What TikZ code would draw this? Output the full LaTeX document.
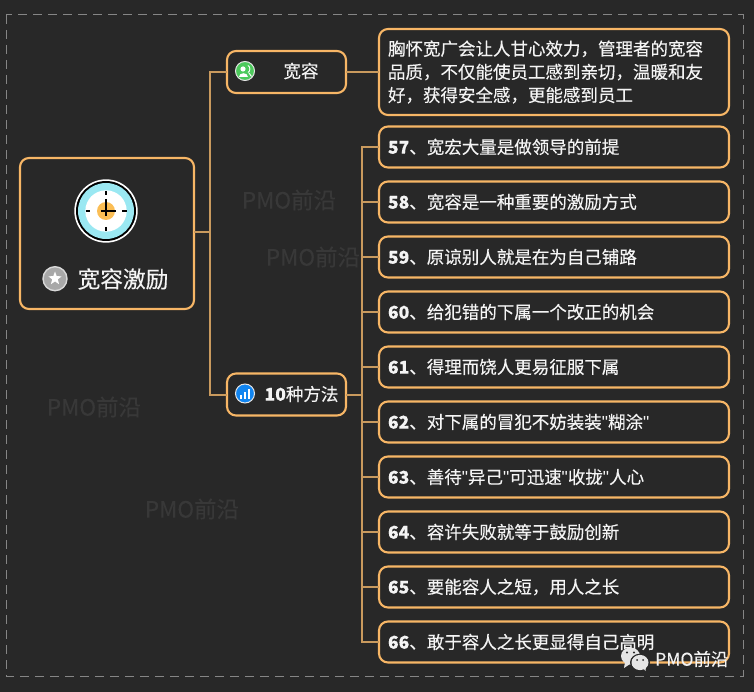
\documentclass[tikz,border=0pt]{standalone}
\usepackage{fontspec}
\setmainfont{Noto Sans CJK SC}[FakeBold=0.25]
\newfontfamily\qf{Liberation Sans}
\newcommand\qt{{\qf"}}
\usetikzlibrary{shapes.geometric,calc}
\definecolor{bgc}{HTML}{282828}
\definecolor{boxc}{HTML}{F7B666}
\definecolor{linkc}{HTML}{C99A5E}
\definecolor{txtc}{HTML}{F4F4F4}
\definecolor{wmc}{HTML}{383838}
\definecolor{cyanc}{HTML}{9AE8F2}
\definecolor{orangec}{HTML}{FBBE55}
\definecolor{greyc}{HTML}{A8A8A8}
\definecolor{greenc}{HTML}{4CC95C}
\definecolor{bluec}{HTML}{1185F0}
\definecolor{dashc}{HTML}{868686}
\tikzset{
  x=1pt,y=-1pt,
  nodebox/.style={draw=boxc,line width=2.1pt,rounded corners=9pt,fill=bgc,inner sep=0pt,outer sep=0pt},
  item/.style={nodebox,minimum width=350pt,minimum height=41pt,anchor=west,text=txtc,align=left,font=\fontsize{17.5}{17.5}\selectfont,text width=332pt},
  sub/.style={nodebox,minimum width=119pt,minimum height=42pt,text=txtc},
  link/.style={draw=linkc,line width=2pt},
  wm/.style={text=wmc,font=\fontsize{22.5}{22.5}\selectfont,inner sep=0pt},
  label/.style={text=txtc,inner sep=0pt,font=\fontsize{17.5}{17.5}\selectfont},
  tick/.style={draw=black,line width=1.3pt},
}
\begin{document}
\begin{tikzpicture}
\useasboundingbox (0,0) rectangle (754,692);
\fill[bgc] (0,0) rectangle (754,692);
\draw[draw=dashc,line width=1pt,dash pattern=on 9pt off 6pt] (6,15) rectangle (743,676);
\node[wm] (w1) at (289,200) {PMO前沿};
\node[wm] (w2) at (313,257) {PMO前沿};
\node[wm] (w3) at (94,407) {PMO前沿};
\node[wm] (w4) at (192,509) {PMO前沿};

\node[nodebox,minimum width=174pt,minimum height=151pt] (root) at (107,233.5) {};
\node[sub] (kr) at (286.5,72) {};
\node[sub] (fa) at (286.5,394.5) {};
\node[item,minimum height=86pt,font=\fontsize{17.5}{23.2}\selectfont] (desc) at (379,72) {胸怀宽广会让人甘心效力，管理者的宽容\\品质，不仅能使员工感到亲切，温暖和友\\好，获得安全感，更能感到员工};
\node[item] (i57) at (379,147) {\textbf{57}、宽宏大量是做领导的前提};
\node[item] (i58) at (379,202) {\textbf{58}、宽容是一种重要的激励方式};
\node[item] (i59) at (379,257) {\textbf{59}、原谅别人就是在为自己铺路};
\node[item] (i60) at (379,312) {\textbf{60}、给犯错的下属一个改正的机会};
\node[item] (i61) at (379,367) {\textbf{61}、得理而饶人更易征服下属};
\node[item] (i62) at (379,422) {\textbf{62}、对下属的冒犯不妨装装\qt 糊涂\qt};
\node[item] (i63) at (379,477) {\textbf{63}、善待\qt 异己\qt 可迅速\qt 收拢\qt 人心};
\node[item] (i64) at (379,532) {\textbf{64}、容许失败就等于鼓励创新};
\node[item] (i65) at (379,587) {\textbf{65}、要能容人之短，用人之长};
\node[item] (i66) at (379,642) {\textbf{66}、敢于容人之长更显得自己高明};

% connectors
\coordinate (t1) at (210,232);
\coordinate (t2) at (362,394.5);
\draw[link] (root.east |- t1) -- (t1);
\draw[link] (kr.west) -- (kr.west -| t1) -- (fa.west -| t1) -- (fa.west);
\draw[link] (kr.east) -- (desc.west);
\draw[link] (fa.east) -- (t2);
\draw[link] (i57.west) -- (i57.west -| t2) -- (i66.west -| t2) -- (i66.west);
\foreach \n in {58,59,60,61,62,63,64,65}{\draw[link] (i\n.west -| t2) -- (i\n.west);}

% root icon
\fill[white] (106,211) circle (31.7);
\fill[black] (106,211) circle (30);
\fill[cyanc] (106,211) circle (28);
\fill[white] (106,211) circle (20.7);
\fill[orangec] (106,211) circle (9);
\draw[tick] (106,191) -- (106,195.5);
\draw[tick] (106,227) -- (106,231.5);
\draw[tick] (85.5,211) -- (90,211);
\draw[tick] (122,211) -- (127,211);
\draw[draw=black,line width=1.2pt] (106,199) -- (106,216);
\draw[draw=black,line width=1.2pt] (101,211) -- (116,211);

% root label
\fill[greyc,draw=white!85!black,line width=1.4pt] (55,278.7) circle (12);
\node[inner sep=0pt,star,star points=5,star point ratio=2.4,fill=white,minimum size=14pt] (rs) at (55,278.5) {};
\node[label,font=\fontsize{22.7}{22.7}\selectfont] (rt) at (123,279) {宽容激励};

% sub icons + labels
\fill[greenc,draw=white!90!black,line width=1pt] (245,71) circle (9.5);
\fill[white] (243,69) circle (2.6);
\fill[white] (238.5,77) .. controls (238.5,72.5) and (247.5,72.5) .. (247.5,77) -- cycle;
\draw[white,line width=0.9pt] (248,65.5) .. controls (250.5,67) and (250.5,71) .. (248,72.5);
\draw[white,line width=0.9pt] (249,73) -- (251.5,76.5);
\node[label] (krt) at (301,71) {宽容};

\fill[bluec,draw=white!90!black,line width=1pt] (245,393.5) circle (9.5);
\fill[white] (240,395) rectangle (242.2,398.5);
\fill[white] (243.8,392) rectangle (246,398.5);
\fill[white] (247.6,388.5) rectangle (249.8,398.5);
\node[label] (fat) at (301.5,394) {\textbf{10}种方法};

% WeChat mark
\fill[white!90!black] (630.5,656) ellipse (9.5 and 8.5);
\fill[white!90!black] (625,662) -- (624,668) -- (630,664) -- cycle;
\fill[bgc] (640,662.5) ellipse (10 and 8.8);
\fill[white!90!black] (640,662.5) ellipse (8.5 and 7.6);
\fill[white!90!black] (643,668) -- (645.5,671) -- (646,666) -- cycle;
\fill[bgc] (627,652.5) circle (1.1);
\fill[bgc] (634,652.5) circle (1.1);
\fill[bgc] (637,660) circle (1);
\fill[bgc] (643,660) circle (1);
\node[label,anchor=west,text=white!95!black] (wt) at (655,659) {PMO前沿};
\end{tikzpicture}
\end{document}
